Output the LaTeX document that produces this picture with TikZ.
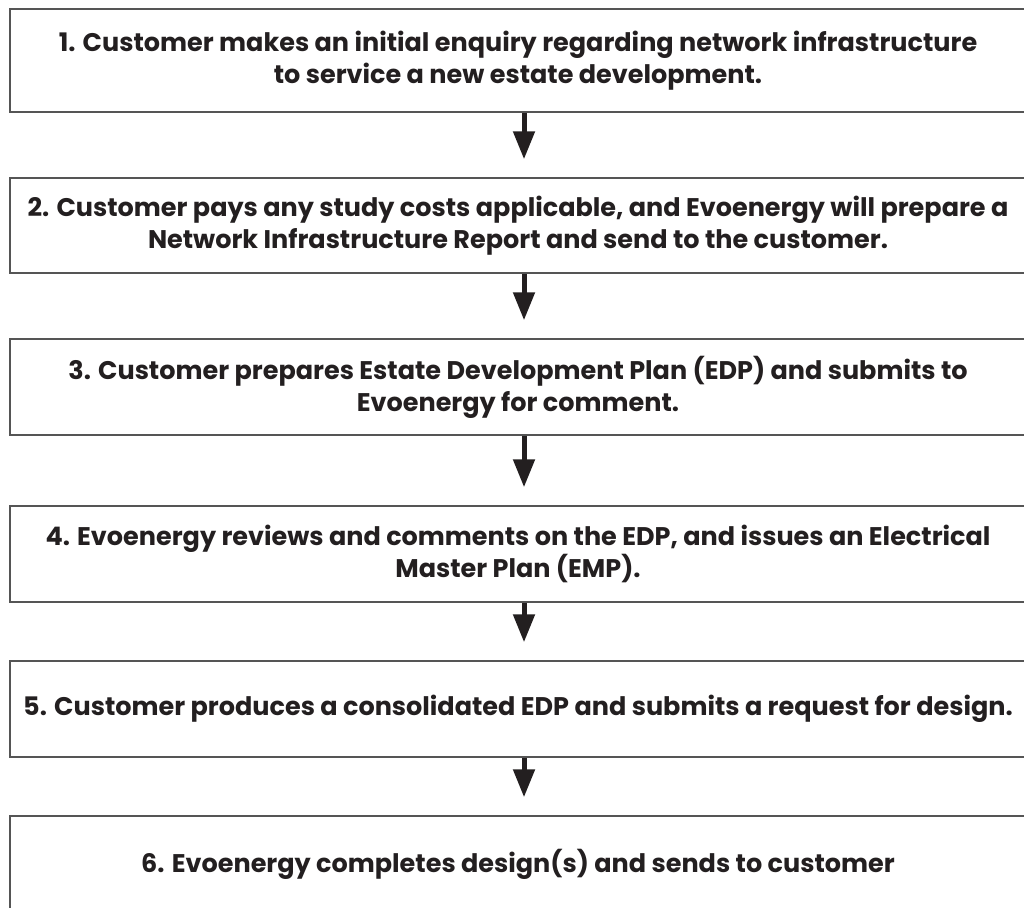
\documentclass[tikz,border=0pt]{standalone}
\usepackage{fontspec}
\setmainfont{Poppins}
\usetikzlibrary{arrows.meta}
\definecolor{inkdark}{HTML}{231F20}
\definecolor{boxline}{HTML}{555555}

\begin{document}
\begin{tikzpicture}[x=1pt,y=-1pt,
	stepbox/.style={draw=boxline,line width=1.5pt,minimum width=1016pt,inner sep=0pt,
		align=center,text=inkdark,font=\fontsize{25.5}{32}\selectfont\bfseries},
	flowarrow/.style={draw=inkdark,line width=5pt,-{Triangle[length=28pt,width=21pt]},shorten >=18pt}]

		\useasboundingbox (0,0) rectangle (1024,907);
		\fill[white] (0,0) rectangle (1024,907);

		\node[stepbox,minimum height=103pt] (s1) at (518,60.5) {1. Customer makes an initial enquiry regarding network infrastructure\\to service a new estate development.};
		\node[stepbox,minimum height=95pt] (s2) at (518,225.5) {2. Customer pays any study costs applicable, and Evoenergy will prepare a\\Network Infrastructure Report and send to the customer.};
		\node[stepbox,minimum height=96pt] (s3) at (518,387) {3. Customer prepares Estate Development Plan (EDP) and submits to\\Evoenergy for comment.};
		\node[stepbox,minimum height=96pt] (s4) at (518,554) {4. Evoenergy reviews and comments on the EDP, and issues an Electrical\\Master Plan (EMP).};
		\node[stepbox,minimum height=96pt] (s5) at (518,709) {5. Customer produces a consolidated EDP and submits a request for design.};
		\node[stepbox,minimum height=96pt] (s6) at (518,864) {6. Evoenergy completes design(s) and sends to customer};

		\draw[flowarrow] ([xshift=6pt]s1.south) -- ([xshift=6pt]s2.north);
		\draw[flowarrow] ([xshift=6pt]s2.south) -- ([xshift=6pt]s3.north);
		\draw[flowarrow] ([xshift=6pt]s3.south) -- ([xshift=6pt]s4.north);
		\draw[flowarrow] ([xshift=6pt]s4.south) -- ([xshift=6pt]s5.north);
		\draw[flowarrow] ([xshift=6pt]s5.south) -- ([xshift=6pt]s6.north);

	\end{tikzpicture}
\end{document}
